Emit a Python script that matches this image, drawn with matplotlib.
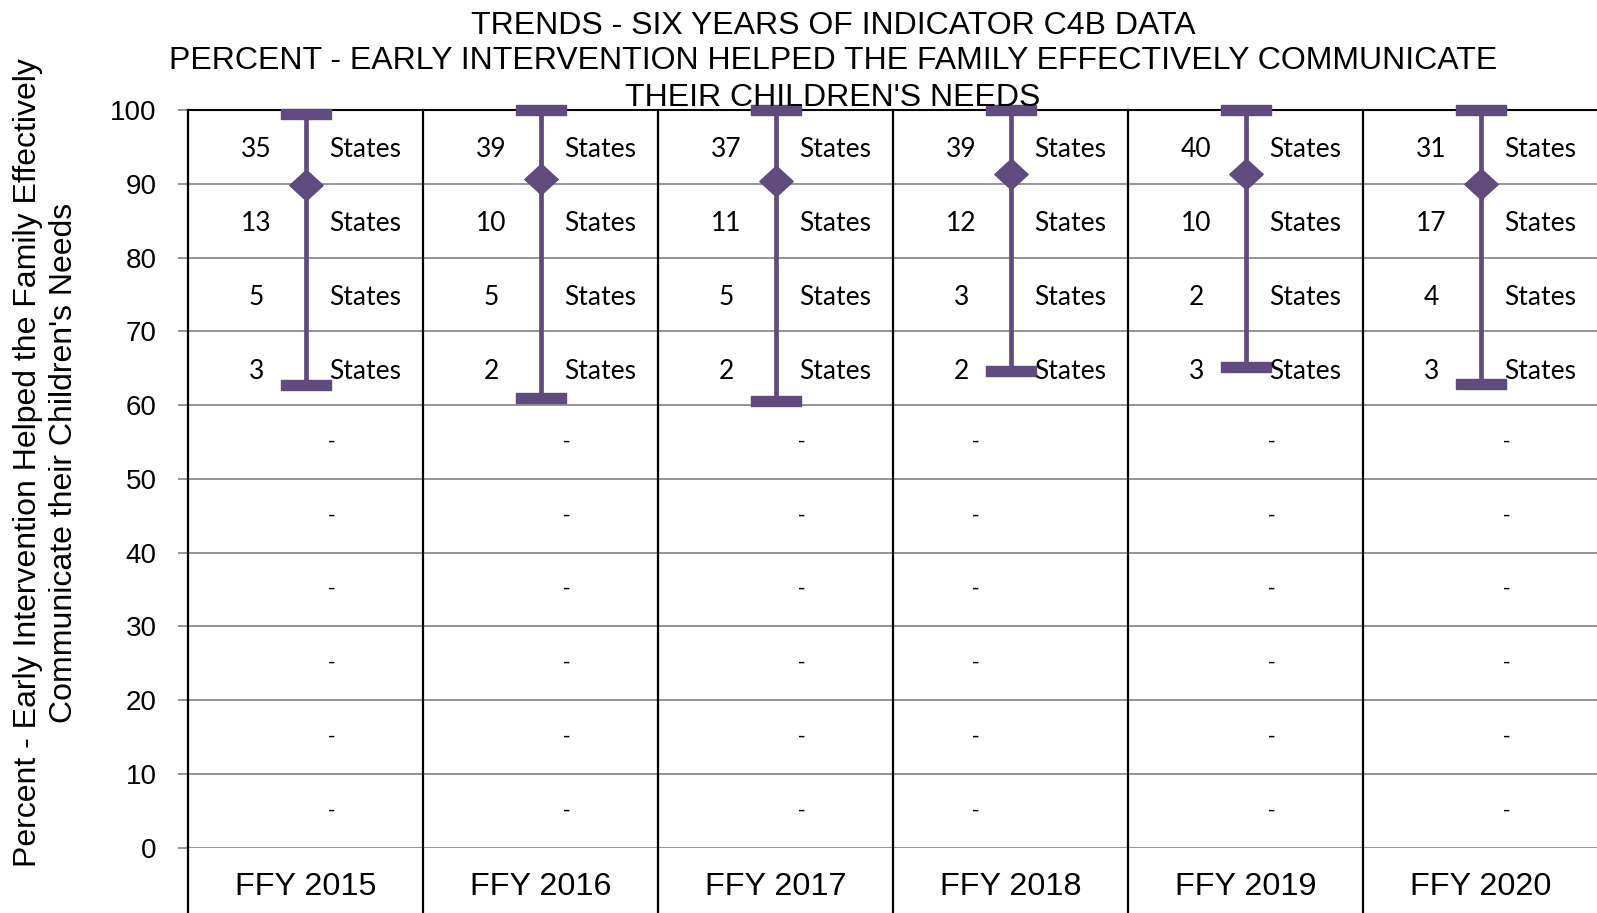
import matplotlib
matplotlib.use("Agg")
import matplotlib.pyplot as plt
from matplotlib.path import Path
import numpy as np

# ---- data ----
years = ['FFY 2015', 'FFY 2016', 'FFY 2017', 'FFY 2018', 'FFY 2019', 'FFY 2020']
max_vals = [99.5, 100.0, 100.0, 100.0, 100.0, 100.0]
min_vals = [62.7, 61.0, 60.5, 64.6, 65.2, 62.9]
mean_vals = [89.9, 90.6, 90.4, 91.3, 91.3, 90.0]
band_mids = [95, 85, 75, 65, 55, 45, 35, 25, 15, 5]
count_90_100 = [35, 39, 37, 39, 40, 31]
count_80_90 = [13, 10, 11, 12, 10, 17]
count_70_80 = [5, 5, 5, 3, 2, 4]
count_60_70 = [3, 2, 2, 2, 3, 3]
yticks = [0, 10, 20, 30, 40, 50, 60, 70, 80, 90, 100]
title_lines = ['TRENDS - SIX YEARS OF INDICATOR C4B DATA',
               'PERCENT - EARLY INTERVENTION HELPED THE FAMILY EFFECTIVELY COMMUNICATE',
               "THEIR CHILDREN'S NEEDS"]
ylabel_lines = ['Percent - Early Intervention Helped the Family Effectively',
                "Communicate their Children's Needs"]

PURPLE = '#5F4B7E'
GRID = '#8C8C8C'
SANS = 'Liberation Sans'
LBL = 'Lato'

W, H = 1597, 913
fig = plt.figure(figsize=(W / 100, H / 100), dpi=100)
ax_left, ax_right, ax_top, ax_bot = 188, 1598, 110, 847.7
ax = fig.add_axes([ax_left / W, 1 - ax_bot / H, (ax_right - ax_left) / W, (ax_bot - ax_top) / H])
x = np.arange(len(years))
ax.set_xlim(-0.5, len(years) - 0.5)
ax.set_ylim(0, 100)
for s in ax.spines.values():
    s.set_visible(False)

# gridlines
ax.set_yticks(yticks)
ax.set_yticklabels([str(t) for t in yticks], fontsize=20, family=SANS)
ax.yaxis.grid(True, color=GRID, linewidth=1.3)
ax.tick_params(axis='y', length=7.5, width=1.3, color=GRID, pad=15)
ax.set_axisbelow(True)
ax.axhline(100, color='black', linewidth=1.5, zorder=2, clip_on=False)

# x categories
ax.set_xticks(x)
ax.set_xticklabels(years, fontsize=23.3, family=SANS)
ax.tick_params(axis='x', length=0, pad=17.5)

# column dividers extending to figure bottom
for i in range(len(years) + 1):
    ax.plot([i - 0.5, i - 0.5], [100, -12], color='black', linewidth=1.6, clip_on=False, zorder=2)

# markers
cap = Path([(-1, -0.22), (1, -0.22), (1, 0.22), (-1, 0.22), (-1, -0.22)],
           [Path.MOVETO, Path.LINETO, Path.LINETO, Path.LINETO, Path.CLOSEPOLY])
diamond = Path([(0, 0.92), (1, 0), (0, -0.92), (-1, 0), (0, 0.92)],
               [Path.MOVETO, Path.LINETO, Path.LINETO, Path.LINETO, Path.CLOSEPOLY])
for i in range(len(years)):
    ax.plot([x[i], x[i]], [min_vals[i], max_vals[i]], color=PURPLE, linewidth=3.4, zorder=4,
            solid_capstyle='butt')
ax.plot(x, max_vals, linestyle='none', marker=cap, markersize=35.5, color=PURPLE, zorder=5, clip_on=False)
ax.plot(x, min_vals, linestyle='none', marker=cap, markersize=35.5, color=PURPLE, zorder=5)
ax.plot(x, mean_vals, linestyle='none', marker=diamond, markersize=24, color=PURPLE, zorder=6)

# data labels
counts = [count_90_100, count_80_90, count_70_80, count_60_70]
for i in range(len(years)):
    for b, cnt in enumerate(counts):
        ax.text(x[i] - 0.21, band_mids[b] - 0.4, str(cnt[i]), ha='center', va='center',
                fontsize=19, family=LBL, zorder=7)
        ax.text(x[i] + 0.255, band_mids[b] - 0.4, 'States', ha='center', va='center',
                fontsize=19, family=LBL, zorder=7)
    dx = -0.15 if years[i] == 'FFY 2018' else 0.11
    for m in band_mids[4:]:
        ax.text(x[i] + dx, m, '-', ha='center', va='center', fontsize=16, family=SANS)

# title
for k, (line, base) in enumerate(zip(title_lines, [33.6, 69.2, 105.8])):
    fig.text(833 / W, 1 - base / H, line, ha='center', va='baseline', fontsize=23, family=SANS)

# y label
for line, xc in zip(ylabel_lines, [28, 64]):
    fig.text(xc / W, 1 - 462.5 / H, line, rotation=90, ha='center', va='center',
             fontsize=23, family=SANS)

fig.savefig('out.png', dpi=100)
